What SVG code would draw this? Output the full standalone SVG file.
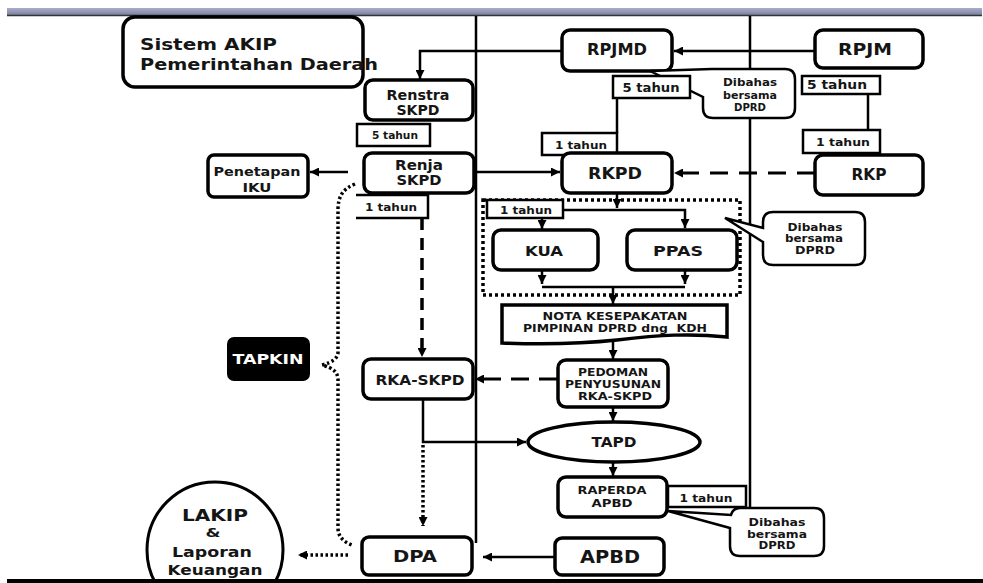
<svg xmlns="http://www.w3.org/2000/svg" width="983" height="583" viewBox="0 0 983 583">
<defs>
<marker id="ah" viewBox="0 0 10 10" refX="10" refY="5" markerWidth="9" markerHeight="9" markerUnits="userSpaceOnUse" orient="auto"><path d="M0,0 L10,5 L0,10 z" fill="#000"/></marker>
<linearGradient id="bar" x1="0" y1="0" x2="0" y2="1"><stop offset="0" stop-color="#a9adc8"/><stop offset="1" stop-color="#7d82a3"/></linearGradient>
</defs>
<style>
.b{fill:#fff;stroke:#000;stroke-width:3.5}
.s{fill:#fff;stroke:#000;stroke-width:2.5}
.t{font-family:"DejaVu Sans",Verdana,sans-serif;font-weight:bold;text-anchor:middle;fill:#151515}
.c{fill:none;stroke:#000;stroke-width:2.5}
.a{marker-end:url(#ah)}
.d{stroke-dasharray:14 9;stroke-width:3}
.o{stroke-dasharray:2.5 2.5;stroke-width:3.5}
</style>
<rect x="0" y="0" width="983" height="583" fill="#fff"/>
<rect x="7" y="8" width="975" height="7" fill="url(#bar)"/>
<line x1="7" y1="15.5" x2="982" y2="15.5" stroke="#333" stroke-width="1.5"/>

<g id="connectors">
<path class="c" d="M476,16 V543" stroke-width="3"/>
<path class="c" d="M750,16 V508" stroke-width="3"/>
<path class="c a" d="M815,51 H674"/>
<path class="c a" d="M562,51 H420 V79"/>
<path class="c" d="M617,98 V133"/>
<path class="c" d="M868,93 V130"/>
<path class="c a d" d="M815,173 H674" style="stroke-dasharray:18 11"/>
<path class="c a" d="M474,172 H560"/>
<path class="c a" d="M348,172 H310"/>
<path class="c a" d="M617,193 V208"/>
<path class="c a" d="M563,210 H685 V228"/>
<path class="c a" d="M542,218 V229"/>
<path class="c a" d="M542,270 V284"/>
<path class="c a" d="M685,270 V284"/>
<path class="c" d="M542,287 H685"/>
<path class="c a" d="M613,287 V304"/>
<path class="c a" d="M613,342 V359"/>
<path class="c a" d="M613,407 V421"/>
<path class="c a" d="M613,462 V476"/>
<path class="c a" d="M555,557 H483"/>
<path class="c a d" d="M557,379 H475" style="stroke-dasharray:18 10"/>
<path class="c a d" d="M422,218 V357" style="stroke-dasharray:12 8;stroke-width:3.5"/>
<path class="c a" d="M423,399 V442 H526"/>
<path class="c a o" d="M423,445 V526"/>
<path class="c a o" d="M348,555 H298"/>
<path class="c o" d="M355,184 C343,189 338,196 338,210 L338,352 C338,358 333,362 322,365 C333,368 338,372 338,380 L338,528 C338,537 344,542 352,545"/>
<rect x="483" y="200" width="257" height="95" fill="none" stroke="#000" stroke-width="3.5" stroke-dasharray="3 3"/>
</g>

<g id="title"><rect class="b" x="123" y="17" width="240" height="70" rx="12"/>
<text class="t" x="140" y="50" font-size="16" style="text-anchor:start" textLength="137" lengthAdjust="spacingAndGlyphs">Sistem AKIP</text>
<text class="t" x="140" y="70" font-size="16" style="text-anchor:start" textLength="238" lengthAdjust="spacingAndGlyphs">Pemerintahan Daerah</text></g>

<g id="renstra"><rect class="b" x="365" y="80" width="108" height="40" rx="8"/>
<text class="t" x="418" y="100" font-size="13.5" textLength="63" lengthAdjust="spacingAndGlyphs">Renstra</text>
<text class="t" x="418" y="115" font-size="13.5" textLength="43" lengthAdjust="spacingAndGlyphs">SKPD</text></g>

<g id="t5a"><rect class="s" x="357" y="124" width="73" height="22"/>
<text class="t" x="395" y="139" font-size="11" textLength="46" lengthAdjust="spacingAndGlyphs">5 tahun</text></g>

<g id="renja"><rect class="b" x="364" y="153" width="110" height="40" rx="8"/>
<text class="t" x="419" y="170" font-size="13.5" textLength="48" lengthAdjust="spacingAndGlyphs">Renja</text>
<text class="t" x="419" y="185" font-size="13.5" textLength="45" lengthAdjust="spacingAndGlyphs">SKPD</text></g>

<g id="iku"><rect class="b" x="208" y="155" width="100" height="42" rx="6"/>
<text class="t" x="257" y="176" font-size="13" textLength="87" lengthAdjust="spacingAndGlyphs">Penetapan</text>
<text class="t" x="257" y="192" font-size="13" textLength="29" lengthAdjust="spacingAndGlyphs">IKU</text></g>

<g id="t1a"><path d="M356,195 H428 V218 H356" fill="#fff" stroke="#000" stroke-width="2.5"/>
<text class="t" x="391" y="211" font-size="11" textLength="52" lengthAdjust="spacingAndGlyphs">1 tahun</text></g>

<g id="tapkin"><rect x="227" y="337" width="83" height="44" rx="7" fill="#000"/>
<text class="t" x="268" y="364" font-size="13.5" style="fill:#fff" textLength="71" lengthAdjust="spacingAndGlyphs">TAPKIN</text></g>

<g id="rkaskpd"><rect class="b" x="363" y="359" width="110" height="40" rx="8"/>
<text class="t" x="420" y="385" font-size="14" textLength="89" lengthAdjust="spacingAndGlyphs">RKA-SKPD</text></g>

<g id="dpa"><rect class="b" x="362" y="537" width="110" height="38" rx="7"/>
<text class="t" x="415" y="562" font-size="15" textLength="44" lengthAdjust="spacingAndGlyphs">DPA</text></g>

<g id="lakip"><circle cx="215" cy="550" r="68" fill="#fff" stroke="#000" stroke-width="3"/>
<text class="t" x="215" y="521" font-size="16" textLength="66" lengthAdjust="spacingAndGlyphs">LAKIP</text>
<text class="t" x="213" y="537" font-size="12" textLength="15" lengthAdjust="spacingAndGlyphs">&amp;</text>
<text class="t" x="212" y="557" font-size="14" textLength="80" lengthAdjust="spacingAndGlyphs">Laporan</text>
<text class="t" x="215" y="575" font-size="14" textLength="95" lengthAdjust="spacingAndGlyphs">Keuangan</text></g>

<g id="rpjmd"><rect class="b" x="562" y="30" width="110" height="41" rx="8"/>
<text class="t" x="617" y="55" font-size="15" textLength="60" lengthAdjust="spacingAndGlyphs">RPJMD</text></g>

<g id="rpjm"><rect class="b" x="815" y="30" width="108" height="38" rx="8"/>
<text class="t" x="865" y="55" font-size="15" textLength="54" lengthAdjust="spacingAndGlyphs">RPJM</text></g>

<g id="callout1"><path class="s" d="M650,71 L712,69 H785 Q795,69 795,79 V108 Q795,118 785,118 H713 Q703,118 703,108 V97 Z"/>
<text class="t" x="750" y="86" font-size="11" textLength="54" lengthAdjust="spacingAndGlyphs">Dibahas</text>
<text class="t" x="750" y="99" font-size="11" textLength="54" lengthAdjust="spacingAndGlyphs">bersama</text>
<text class="t" x="750" y="111" font-size="11" textLength="32" lengthAdjust="spacingAndGlyphs">DPRD</text></g>

<g id="t5b"><rect class="s" x="613" y="76" width="77" height="22"/>
<text class="t" x="651" y="92" font-size="11.5" textLength="57" lengthAdjust="spacingAndGlyphs">5 tahun</text></g>

<g id="t5c"><rect class="s" x="802" y="76" width="78" height="18"/>
<text class="t" x="837" y="89" font-size="11.5" textLength="60" lengthAdjust="spacingAndGlyphs">5 tahun</text></g>

<g id="t1b"><rect class="s" x="542" y="133" width="75" height="22"/>
<text class="t" x="581" y="149" font-size="11" textLength="52" lengthAdjust="spacingAndGlyphs">1 tahun</text></g>

<g id="t1c"><rect class="s" x="803" y="130" width="77" height="23"/>
<text class="t" x="843" y="146" font-size="11" textLength="54" lengthAdjust="spacingAndGlyphs">1 tahun</text></g>

<g id="rkpd"><rect class="b" x="562" y="153" width="110" height="40" rx="8"/>
<text class="t" x="615" y="179" font-size="15" textLength="54" lengthAdjust="spacingAndGlyphs">RKPD</text></g>

<g id="rkp"><rect class="b" x="815" y="155" width="108" height="40" rx="8"/>
<text class="t" x="869" y="180" font-size="15" textLength="35" lengthAdjust="spacingAndGlyphs">RKP</text></g>

<g id="t1d"><rect class="s" x="487" y="200" width="76" height="18"/>
<text class="t" x="526" y="214" font-size="11" textLength="52" lengthAdjust="spacingAndGlyphs">1 tahun</text></g>

<g id="kua"><rect class="b" x="493" y="230" width="105" height="40" rx="8"/>
<text class="t" x="544" y="256" font-size="14" textLength="38" lengthAdjust="spacingAndGlyphs">KUA</text></g>

<g id="ppas"><rect class="b" x="627" y="230" width="110" height="40" rx="8"/>
<text class="t" x="678" y="256" font-size="14" textLength="50" lengthAdjust="spacingAndGlyphs">PPAS</text></g>

<g id="callout2"><path class="s" d="M725,218 L763,228 V222 Q763,212 773,212 H855 Q865,212 865,222 V255 Q865,265 855,265 H773 Q763,265 763,255 V242 Z"/>
<text class="t" x="815" y="231" font-size="10" textLength="55" lengthAdjust="spacingAndGlyphs">Dibahas</text>
<text class="t" x="814" y="242" font-size="10" textLength="58" lengthAdjust="spacingAndGlyphs">bersama</text>
<text class="t" x="815" y="254" font-size="10" textLength="40" lengthAdjust="spacingAndGlyphs">DPRD</text></g>

<g id="nota"><path class="b" d="M502,305 H727 V337 C690,333 660,335 617,340 C570,345 530,344 502,343 Z"/>
<text class="t" x="615" y="320" font-size="10" textLength="145" lengthAdjust="spacingAndGlyphs">NOTA KESEPAKATAN</text>
<text class="t" x="615" y="332" font-size="10" textLength="184" lengthAdjust="spacingAndGlyphs" xml:space="preserve">PIMPINAN DPRD dng  KDH</text></g>

<g id="pedoman"><rect class="b" x="558" y="360" width="110" height="47" rx="8"/>
<text class="t" x="613" y="376" font-size="10.5" textLength="70" lengthAdjust="spacingAndGlyphs">PEDOMAN</text>
<text class="t" x="613" y="388" font-size="10.5" textLength="96" lengthAdjust="spacingAndGlyphs">PENYUSUNAN</text>
<text class="t" x="615" y="400" font-size="10.5" textLength="74" lengthAdjust="spacingAndGlyphs">RKA-SKPD</text></g>

<g id="tapd"><ellipse cx="614" cy="442" rx="86" ry="20" fill="#fff" stroke="#000" stroke-width="3.5"/>
<text class="t" x="614" y="447" font-size="14" textLength="45" lengthAdjust="spacingAndGlyphs">TAPD</text></g>

<g id="raperda"><rect class="b" x="558" y="477" width="109" height="40" rx="8"/>
<text class="t" x="612" y="494" font-size="11" textLength="69" lengthAdjust="spacingAndGlyphs">RAPERDA</text>
<text class="t" x="612" y="507" font-size="11" textLength="41" lengthAdjust="spacingAndGlyphs">APBD</text></g>

<g id="t1e"><rect class="s" x="668" y="486" width="78" height="21"/>
<text class="t" x="706" y="502" font-size="11" textLength="53" lengthAdjust="spacingAndGlyphs">1 tahun</text></g>

<g id="callout3"><path class="s" d="M668,511 L731,515 Q733,508 740,508 H814 Q824,508 824,518 V546 Q824,556 814,556 H740 Q730,556 730,546 V528 Z"/>
<text class="t" x="777" y="526" font-size="10" textLength="57" lengthAdjust="spacingAndGlyphs">Dibahas</text>
<text class="t" x="777" y="538" font-size="10" textLength="60" lengthAdjust="spacingAndGlyphs">bersama</text>
<text class="t" x="777" y="549" font-size="10" textLength="37" lengthAdjust="spacingAndGlyphs">DPRD</text></g>

<g id="apbd"><rect class="b" x="555" y="538" width="109" height="37" rx="7"/>
<text class="t" x="610" y="563" font-size="17" textLength="60" lengthAdjust="spacingAndGlyphs">APBD</text></g>

<rect x="7" y="579" width="976" height="4" fill="#000"/>
</svg>
